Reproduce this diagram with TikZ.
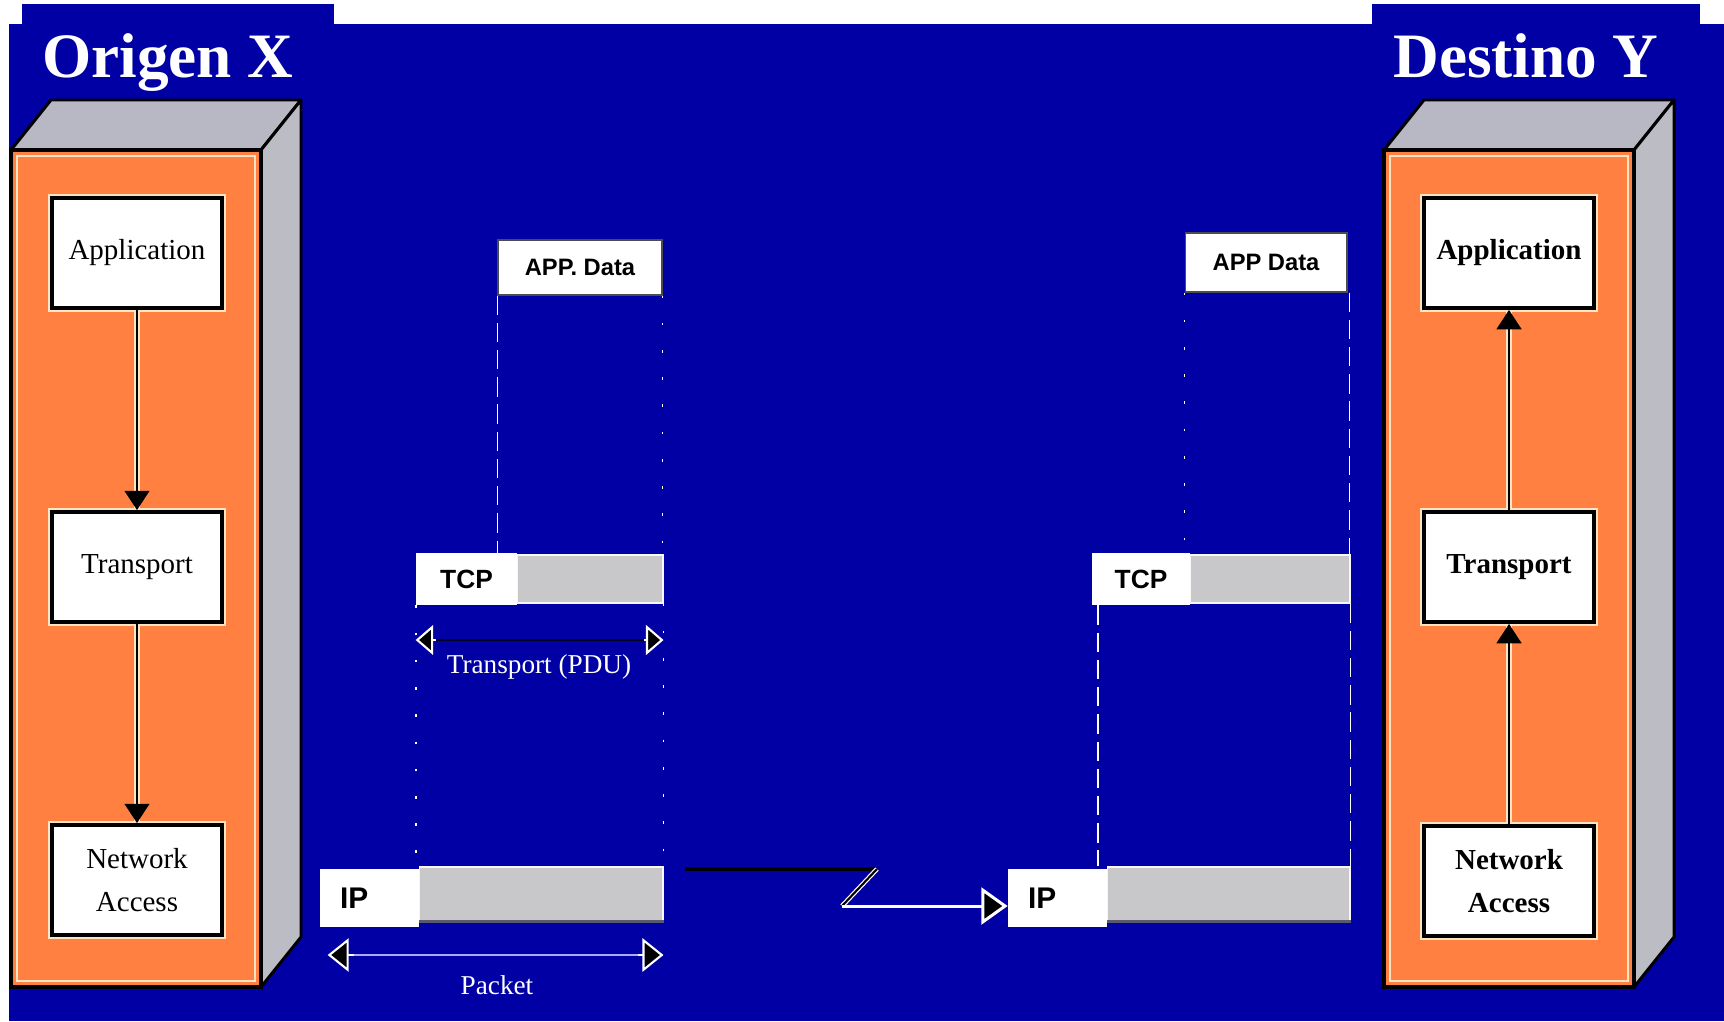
\documentclass[tikz,border=0pt]{standalone}
\usepackage{fontspec}
\setmainfont{Liberation Serif}
\setsansfont{Liberation Sans}
\usetikzlibrary{arrows.meta,calc}
\definecolor{bgblue}{RGB}{0,0,164}
\definecolor{stackorange}{RGB}{255,128,64}
\definecolor{sidegray}{RGB}{188,188,196}
\definecolor{topgray}{RGB}{184,184,196}
\definecolor{cream}{RGB}{255,228,196}
\definecolor{bargray}{RGB}{200,200,202}
\definecolor{lav}{RGB}{170,170,255}
\definecolor{bardark}{RGB}{90,90,110}
\tikzset{
  stackbody/.pic={
    \filldraw[fill=topgray,draw=black,line width=1.7pt,line join=round]
      (0,0) -- (40,-50) -- (290,-50) -- (250,0) -- cycle;
    \filldraw[fill=sidegray,draw=black,line width=1.7pt,line join=round]
      (250,0) -- (290,-50) -- (290,787) -- (250,837) -- cycle;
    \filldraw[fill=stackorange,draw=black,line width=2.5pt] (0,0) rectangle (250,837);
    \draw[cream,line width=1.2pt] (6,6) rectangle (244,831);
  },
  title/.style={text=white,font=\fontsize{36}{40}\selectfont\bfseries,anchor=base,inner sep=0pt},
  layerbox/.style={draw=black,fill=white,line width=2.2pt,minimum width=3.4cm,
    minimum height=2.2cm,align=center,inner sep=0pt,
    font=\fontsize{16.5}{24.4}\selectfont,
    preaction={draw=cream,line width=4.6pt}},
  stackarrow/.style={draw=black,line width=1.6pt,-{Triangle[length=11pt,width=14pt]},
    preaction={draw=cream,line width=3.8pt,-}},
  databox/.style={draw=black!70,fill=white,line width=0.6pt,inner sep=0pt,
    font=\sffamily\bfseries\fontsize{13.5}{16}\selectfont},
  hdrbox/.style={fill=white,inner sep=0pt,font=\sffamily\bfseries\fontsize{15}{18}\selectfont},
  ipbox/.style={fill=white,inner ysep=0pt,inner xsep=0.4cm,text width=1.18cm,align=left,
    minimum height=1.16cm,font=\sffamily\bfseries\fontsize{17}{20}\selectfont},
  barbox/.style={fill=bargray,draw=white!85!bargray,line width=0.6pt,inner sep=0pt},
  dashw/.style={white,line width=1.1pt,dash pattern=on 11pt off 4.5pt},
  dotw/.style={white,line width=1.1pt,dash pattern=on 1.5pt off 14pt},
  pduarrow/.style={line width=1.2pt,{Triangle[length=10pt,width=17pt,fill=black]}-{Triangle[length=10pt,width=17pt,fill=black]}},
  pdulabel/.style={text=white,font=\fontsize{15.5}{18}\selectfont,inner sep=0pt},
  linkblack/.style={black,line width=2.3pt},
  linkwhite/.style={white,line width=1.7pt,-{Triangle[length=15pt,width=21pt,fill=black]}}
}
\begin{document}
\begin{tikzpicture}[x=0.02cm,y=-0.02cm]
\useasboundingbox (0,0) rectangle (1724,1021);
% background
\fill[white] (0,0) rectangle (1724,1021);
\fill[bgblue] (9,24) rectangle (1724,1021);
\fill[bgblue] (22,4) rectangle (334,24);
\fill[bgblue] (1372,4) rectangle (1700,24);
% titles
\node[title] (tX) at (168,77) {Origen X};
\node[title] (tY) at (1526,77) {Destino Y};
% stacks
\pic at (11,150) {stackbody};
\pic at (1384,150) {stackbody};
% left layers
\node[layerbox] (appL) at (137,253) {Application};
\node[layerbox] (trL) at (137,567) {Transport};
\node[layerbox] (naL) at (137,880) {Network\\Access};
\draw[stackarrow] (appL.south) -- (trL.north);
\draw[stackarrow] (trL.south) -- (naL.north);
% right layers
\node[layerbox,font=\fontsize{16.5}{24.4}\selectfont\bfseries] (appR) at (1509,253) {Application};
\node[layerbox,font=\fontsize{16.5}{24.4}\selectfont\bfseries] (trR) at (1509,567) {Transport};
\node[layerbox,font=\fontsize{16.5}{24.4}\selectfont\bfseries] (naR) at (1509,881) {Network\\Access};
\draw[stackarrow] (naR.north) -- (trR.south);
\draw[stackarrow] (trR.north) -- (appR.south);
% left middle units
\node[databox,minimum width=3.28cm,minimum height=1.1cm] (appdL) at (580,267.5) {APP. Data};
\node[barbox,minimum width=2.92cm,minimum height=0.96cm] (tcpbarL) at (590,579) {};
\node[hdrbox,minimum width=2.02cm,minimum height=1.04cm] (tcpL) at (466.5,579) {TCP};
\node[barbox,minimum width=4.88cm,minimum height=1.08cm] (ipbarL) at (541,894) {};
\draw[bardark,line width=1.4pt] (ipbarL.south west) -- (ipbarL.south east);
\node[ipbox] (ipL) at (369.5,898) {IP};
% right middle units
\node[databox,minimum width=3.24cm,minimum height=1.18cm] (appdR) at (1266,262.5) {APP Data};
\node[barbox,minimum width=3.2cm,minimum height=0.96cm] (tcpbarR) at (1270,579) {};
\node[hdrbox,minimum width=1.96cm,minimum height=1.04cm] (tcpR) at (1141,579) {TCP};
\node[barbox,minimum width=4.86cm,minimum height=1.08cm] (ipbarR) at (1228.5,894) {};
\draw[bardark,line width=1.4pt] (ipbarR.south west) -- (ipbarR.south east);
\node[ipbox] (ipR) at (1057.5,898) {IP};
% guide lines, left
\draw[dashw] (appdL.south west) -- (appdL.south west |- tcpL.north);
\draw[dotw] (appdL.south east) -- (appdL.south east |- tcpbarL.north);
\draw[dotw] (tcpL.south west) -- (tcpL.south west |- ipbarL.north);
\draw[dotw] (tcpbarL.south east) -- (tcpbarL.south east |- ipbarL.north);
% guide lines, right
\draw[dotw] (appdR.south west) -- (appdR.south west |- tcpR.north);
\draw[dashw] ([xshift=0.04cm]appdR.south east) -- ([xshift=0.04cm]appdR.south east |- tcpbarR.north);
\draw[dashw] ([xshift=0.12cm]tcpR.south west) -- ([xshift=0.12cm]tcpR.south west |- ipbarR.north);
\draw[dashw] (tcpbarR.south east) -- (tcpbarR.south east |- ipbarR.north);
% PDU spans
\coordinate (pduy) at (0,640);
\coordinate (nety) at (0,955);
\draw[pduarrow,draw=white] (pduy -| tcpL.west) -- (pduy -| tcpbarL.east);
\draw[black!80!bgblue,line width=1.2pt] ($(pduy -| tcpL.west)+(20,0)$) -- ($(pduy -| tcpbarL.east)+(-20,0)$);
\node[pdulabel] (pduT) at (539,667) {Transport (PDU)};
\draw[pduarrow,draw=white,{Triangle[length=12pt,width=19pt,fill=black]}-{Triangle[length=12pt,width=19pt,fill=black]}] ([xshift=0.16cm]nety -| ipL.west) -- (nety -| ipbarL.east);
\draw[lav,line width=1.6pt] ($(nety -| ipL.west)+(34,0)$) -- ($(nety -| ipbarL.east)+(-26,0)$);
\node[pdulabel] (pduN) at (497,985) {Packet};
% network link
\coordinate (lk0) at (685,869);
\coordinate (lk1) at (877,869);
\coordinate (lk2) at (842,906);
\draw[linkblack] (lk0) -- (lk1);
\draw[white,line width=2.6pt] (lk1) -- (lk2);
\draw[black,line width=1.2pt] (lk1) -- (lk2);
\draw[linkwhite] (lk2) -- (lk2 -| ipR.west);
\end{tikzpicture}
\end{document}
